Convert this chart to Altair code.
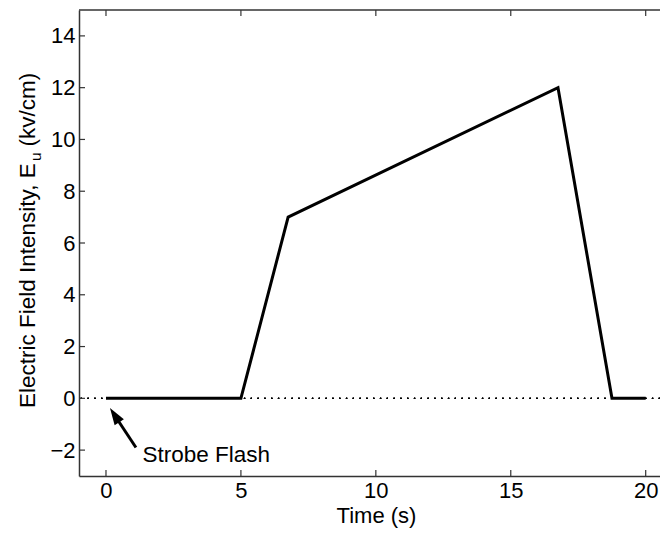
import altair as alt
import pandas as pd

# Data
time_s = [0, 5, 6.75, 16.75, 18.75, 20]
field_kv = [0, 0, 7, 12, 0, 0]

x_ticks = [0, 5, 10, 15, 20]
y_ticks = [-2, 0, 2, 4, 6, 8, 10, 12, 14]

arrow_t = [1.11, 0.35]
arrow_e = [-1.90, -0.70]
arrow_head_t = [0.35]
arrow_head_e = [-0.70]

label_text = ["Strobe Flash"]
label_t = [1.35]
label_e = [-2.2]

ytitle_parts = ["Electric Field Intensity, E", "u", "(kv/cm)"]

W, H = 581, 466
FONT = "Liberation Sans"
FS = 22

xs = alt.Scale(domain=[-1, 20.53], nice=False, zero=False)
ys = alt.Scale(domain=[-3, 15], nice=False, zero=False)

df = pd.DataFrame({"t": time_s, "e": field_kv})
xt = pd.DataFrame({"t": x_ticks})
yt = pd.DataFrame({"e": y_ticks})
arr = pd.DataFrame({"t": arrow_t, "e": arrow_e})
head = pd.DataFrame({"t": arrow_head_t, "e": arrow_head_e})
lab = pd.DataFrame({"t": label_t, "e": label_e, "s": label_text})
one = pd.DataFrame({"k": [0]})

xaxis = alt.Axis(values=x_ticks, ticks=False, grid=False, domainColor="#333333",
                 domainWidth=1.5, labelFont=FONT, labelFontSize=FS, labelColor="#000000",
                 labelPadding=4, title="Time (s)", titleFont=FONT, titleFontSize=FS,
                 titleFontWeight="normal", titleColor="#000000",
                 titleX=297, titleY=46, titleBaseline="alphabetic", titleAlign="center")
yaxis = alt.Axis(values=y_ticks, ticks=False, grid=False, domainColor="#333333",
                 domainWidth=1.5, labelFont=FONT, labelFontSize=FS, labelColor="#000000",
                 labelPadding=4, title=None)

line = alt.Chart(df).mark_line(color="black", strokeWidth=3).encode(
    x=alt.X("t:Q", scale=xs, axis=xaxis),
    y=alt.Y("e:Q", scale=ys, axis=yaxis),
)

zero = alt.Chart(df).mark_rule(color="black", strokeWidth=1.3, strokeDash=[1.3, 5.5]).encode(
    y=alt.datum(0, scale=ys)
)

top_border = alt.Chart(one).mark_rule(color="#333333", strokeWidth=1.5).encode(
    x=alt.value(0), x2=alt.value(W), y=alt.value(0)
)

xt_bottom = alt.Chart(xt).mark_rule(color="#333333", strokeWidth=1.2).encode(
    x=alt.X("t:Q", scale=xs), y=alt.value(H), y2=alt.value(H - 6)
)
xt_top = alt.Chart(xt).mark_rule(color="#333333", strokeWidth=1.2).encode(
    x=alt.X("t:Q", scale=xs), y=alt.value(0), y2=alt.value(6)
)
yt_left = alt.Chart(yt).mark_rule(color="#333333", strokeWidth=1.2).encode(
    y=alt.Y("e:Q", scale=ys), x=alt.value(0), x2=alt.value(6)
)

shaft = alt.Chart(arr).mark_line(color="black", strokeWidth=3).encode(
    x=alt.X("t:Q", scale=xs), y=alt.Y("e:Q", scale=ys)
)
arrowhead = alt.Chart(head).mark_point(
    shape="M0,-1L0.55,0.7L-0.55,0.7Z", filled=True, color="black", opacity=1,
    size=400, angle=327
).encode(x=alt.X("t:Q", scale=xs), y=alt.Y("e:Q", scale=ys))

text = alt.Chart(lab).mark_text(align="left", baseline="middle", font=FONT,
                                fontSize=22.5, color="black").encode(
    x=alt.X("t:Q", scale=xs), y=alt.Y("e:Q", scale=ys), text="s:N"
)

# y-axis title with a real subscript, built from rotated text pieces
TFS = 22.5
yt1 = alt.Chart(one).mark_text(angle=270, align="left", baseline="alphabetic",
                               font=FONT, fontSize=TFS, color="black",
                               text=ytitle_parts[0]).encode(
    x=alt.value(-44), y=alt.value(398))
yt2 = alt.Chart(one).mark_text(angle=270, align="left", baseline="alphabetic",
                               font=FONT, fontSize=15.5, color="black",
                               text=ytitle_parts[1]).encode(
    x=alt.value(-38), y=alt.value(151))
yt3 = alt.Chart(one).mark_text(angle=270, align="left", baseline="alphabetic",
                               font=FONT, fontSize=TFS, color="black",
                               text=ytitle_parts[2]).encode(
    x=alt.value(-44), y=alt.value(136.5))

chart = alt.layer(zero, line, top_border, xt_bottom, xt_top, yt_left, shaft,
                  arrowhead, text, yt1, yt2, yt3).properties(
    width=W, height=H,
    autosize=alt.AutoSizeParams(type="none"),
    padding={"left": 71, "top": 2, "right": 0, "bottom": 52},
    background="white",
).configure_view(stroke=None)

chart.save("out.html", embed_options={"renderer": "svg", "actions": False})
